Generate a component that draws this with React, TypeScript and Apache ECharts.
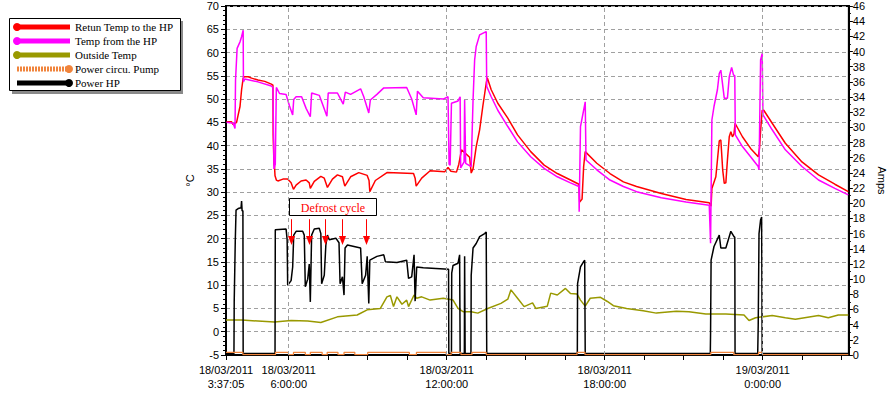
import React, { useEffect, useRef } from "react";
import * as echarts from "echarts";

// Time in hours since 18/03/2011 00:00
const T_START = 3 + 37 / 60 + 5 / 3600;
const T_END = 27.272;
const X_LABELS = [T_START, 6, 12, 18, 24];
const X_TICKS = [T_START, 6, 7.5, 9, 10.5, 12, 13.5, 15, 16.5, 18, 19.5, 21, 22.5, 24, 25.5, 27];
const X_GRID = [6, 12, 18, 24];

const SERIES_NAMES = ["Retun Temp to the HP", "Temp from the HP", "Outside Temp", "Power circu. Pump", "Power HP"];
const SERIES_COLORS = ["#ff0000", "#ff00ff", "#999900", "#f0843c", "#000000"];

const RETURN_TEMP: [number, number][] = [
  [3.64,45.1],[3.83,45.1],[3.89,44.5],[4.02,45.0],[4.08,46.6],[4.15,48.4],[4.21,52.0],[4.27,54.5],[4.31,54.8],[4.46,54.8],[4.59,54.5],[4.83,54.1],[5.09,53.8],[5.34,53.2],[5.40,53.0],[5.41,42.3],[5.44,36.0],[5.46,35.5],[5.48,33.5],[5.53,32.6],[5.59,32.4],[5.78,32.8],[5.96,32.8],[6.09,32.0],[6.18,30.6],[6.28,31.5],[6.47,32.4],[6.66,32.6],[6.78,32.0],[6.82,30.8],[6.97,32.3],[7.22,33.4],[7.35,33.0],[7.47,31.0],[7.66,32.8],[7.85,33.7],[8.04,33.3],[8.13,31.3],[8.35,33.3],[8.66,34.2],[8.98,33.6],[9.05,32.5],[9.08,30.1],[9.29,32.5],[9.73,34.2],[10.74,34.0],[10.80,33.0],[10.84,31.3],[11.05,33.0],[11.37,34.6],[11.93,34.4],[12.05,35.3],[12.16,34.5],[12.37,34.3],[12.46,36.0],[12.56,39.1],[12.68,38.5],[12.87,37.5],[12.93,34.1],[13.00,35.0],[13.12,39.8],[13.25,43.4],[13.37,48.4],[13.50,53.4],[13.54,54.6],[13.69,52.0],[13.94,49.1],[14.32,45.9],[14.69,42.3],[15.19,38.7],[15.70,35.8],[16.20,34.0],[16.70,32.6],[17.02,31.7],[17.05,27.9],[17.14,28.5],[17.20,35.5],[17.26,38.7],[17.70,36.2],[18.20,34.0],[18.71,32.2],[19.21,31.2],[20.15,29.7],[21.09,28.4],[21.97,27.7],[22.04,27.0],[22.07,30.8],[22.22,33.3],[22.35,41.0],[22.41,41.2],[22.48,34.8],[22.54,31.9],[22.60,32.0],[22.66,36.9],[22.73,41.9],[22.79,43.0],[22.85,41.9],[22.91,42.5],[22.95,44.8],[23.23,41.9],[23.54,39.4],[23.83,37.6],[23.88,39.5],[23.92,43.2],[23.98,47.6],[24.04,47.6],[24.36,44.8],[24.86,40.5],[25.49,36.5],[26.12,33.7],[26.74,31.7],[27.25,30.1]
];

const FROM_TEMP: [number, number][] = [
  [3.64,45.0],[3.89,44.8],[3.96,43.7],[3.98,54.1],[4.04,60.9],[4.15,62.3],[4.21,63.4],[4.27,64.8],[4.28,53.7],[4.33,54.3],[4.83,53.7],[5.34,52.8],[5.40,52.5],[5.44,35.0],[5.49,36.0],[5.53,52.5],[5.65,51.2],[5.90,51.0],[6.03,48.5],[6.15,46.6],[6.19,49.9],[6.28,50.5],[6.49,50.5],[6.66,48.0],[6.82,46.2],[6.87,51.3],[7.16,50.8],[7.31,48.5],[7.45,46.3],[7.50,51.3],[7.85,51.3],[7.97,50.0],[8.07,48.9],[8.15,51.5],[8.35,51.0],[8.73,52.2],[8.85,50.5],[9.04,47.0],[9.10,49.8],[9.35,51.0],[9.61,52.4],[10.48,52.5],[10.67,50.0],[10.84,46.6],[10.89,51.7],[11.11,50.3],[11.87,50.0],[12.05,50.5],[12.09,36.0],[12.13,35.8],[12.18,49.1],[12.43,49.6],[12.51,50.5],[12.53,35.2],[12.66,36.5],[12.68,49.8],[12.72,36.2],[12.93,35.5],[13.00,49.8],[13.06,58.4],[13.12,61.3],[13.25,63.8],[13.50,64.5],[13.52,52.7],[13.69,50.5],[13.94,47.6],[14.32,44.1],[14.69,40.8],[15.19,37.6],[15.70,35.1],[16.20,33.3],[16.70,32.0],[17.02,31.2],[17.03,25.8],[17.08,44.1],[17.20,47.6],[17.26,49.4],[17.29,36.9],[17.70,34.8],[18.20,32.6],[18.71,31.2],[19.21,30.1],[20.15,28.8],[21.09,27.9],[21.97,27.2],[22.02,19.0],[22.07,45.5],[22.15,48.4],[22.28,52.0],[22.35,55.5],[22.41,56.2],[22.48,53.0],[22.54,50.2],[22.66,50.2],[22.73,54.8],[22.82,56.8],[22.89,55.2],[22.94,55.0],[22.96,42.3],[23.23,39.8],[23.54,37.6],[23.83,35.5],[23.86,34.8],[23.88,42.7],[23.92,58.4],[23.98,59.8],[24.01,46.6],[24.36,43.4],[24.86,39.1],[25.49,35.5],[26.12,32.6],[26.74,30.8],[27.25,29.4]
];

const OUTSIDE_TEMP: [number, number][] = [
  [3.62,2.5],[4.21,2.5],[4.83,2.3],[5.46,2.1],[6.09,2.4],[6.72,2.3],[7.22,2.0],[7.85,3.2],[8.60,3.6],[8.98,4.7],[9.48,5.0],[9.73,7.5],[9.86,7.8],[9.98,5.4],[10.11,7.5],[10.30,5.9],[10.48,6.8],[10.55,5.4],[10.76,7.9],[10.86,7.2],[11.05,7.5],[11.37,6.8],[11.87,7.2],[12.24,6.8],[12.43,5.0],[12.62,4.3],[12.93,4.3],[13.18,4.0],[13.56,5.0],[14.06,6.1],[14.32,7.0],[14.44,9.0],[14.69,7.2],[14.94,5.4],[15.26,6.2],[15.38,5.0],[15.82,5.5],[15.95,8.3],[16.20,7.9],[16.51,9.3],[16.70,8.2],[16.95,8.1],[17.08,6.8],[17.26,5.5],[17.45,7.2],[17.84,7.4],[18.10,6.5],[18.33,5.6],[18.83,5.0],[19.46,4.5],[19.96,4.0],[20.72,4.4],[21.20,4.3],[21.84,3.8],[22.60,3.8],[23.29,3.6],[23.48,2.4],[23.73,3.0],[24.36,3.5],[24.86,3.0],[25.24,2.7],[26.12,3.5],[26.49,3.0],[26.87,3.6],[27.25,3.6]
];

const PUMP_POWER: [number, number][] = [
  [3.62,0.35],[4.26,0.05],[5.50,0.35],[5.99,0.05],[6.18,0.35],[6.63,0.05],[6.82,0.35],[7.27,0.05],[7.46,0.35],[7.87,0.05],[8.10,0.35],[8.51,0.05],[9.00,0.35],[10.58,0.05],[10.85,0.35],[11.98,0.05],[12.17,0.35],[12.54,0.05],[12.96,0.35],[13.50,0.05],[16.95,0.35],[17.25,0.05],[22.03,0.35],[22.90,0.05],[23.84,0.35],[23.99,0.05],[27.25,0.05]
];

const HP_POWER: [number, number][] = [
  [3.62,0.2],[3.92,0.2],[3.93,7.0],[3.97,15.0],[4.00,19.1],[4.08,19.3],[4.19,19.4],[4.21,20.3],[4.23,19.0],[4.26,19.0],[4.27,0.2],[5.48,0.2],[5.49,16.5],[5.90,16.6],[5.94,15.2],[5.96,9.2],[6.09,9.8],[6.15,11.6],[6.19,15.8],[6.28,16.3],[6.53,16.3],[6.59,15.8],[6.63,9.0],[6.72,10.0],[6.78,12.0],[6.82,7.0],[6.87,15.8],[6.97,16.6],[7.16,16.7],[7.22,16.0],[7.25,9.4],[7.35,10.5],[7.41,14.5],[7.47,15.8],[7.54,15.2],[7.79,15.4],[7.91,14.8],[7.95,9.4],[8.04,10.3],[8.10,7.9],[8.14,14.1],[8.23,14.5],[8.48,14.3],[8.73,14.1],[8.79,9.4],[8.92,10.5],[8.98,13.0],[9.04,6.8],[9.08,12.5],[9.35,13.0],[9.61,13.2],[9.67,12.3],[10.11,12.2],[10.48,12.5],[10.55,10.1],[10.67,10.3],[10.76,13.2],[10.80,7.1],[10.86,11.6],[11.11,11.5],[12.07,11.3],[12.08,0.2],[12.18,0.2],[12.19,10.8],[12.24,11.8],[12.43,12.1],[12.49,13.2],[12.51,0.2],[12.67,0.2],[12.68,13.0],[12.70,0.2],[12.92,0.2],[12.93,10.5],[13.00,14.1],[13.12,14.7],[13.25,15.6],[13.44,16.0],[13.50,16.2],[13.52,0.2],[16.96,0.2],[16.97,9.4],[17.08,11.6],[17.20,12.3],[17.24,12.5],[17.26,0.2],[22.01,0.2],[22.02,2.9],[22.04,12.5],[22.15,14.3],[22.35,15.8],[22.41,14.1],[22.60,14.1],[22.79,16.3],[22.91,15.6],[22.94,15.5],[22.95,0.2],[23.81,0.2],[23.83,4.0],[23.86,16.0],[23.92,17.8],[23.96,18.2],[23.98,0.2],[27.25,0.2]
];

const DEFROST_TIMES = [6.09, 6.76, 7.37, 8.04, 8.92];
const DEFROST_ARROW_FROM = 17.9; // amps
const DEFROST_ARROW_TO = 14.5; // amps
const DEFROST_LABEL = "Defrost cycle";

const pad = (n: number) => (n < 10 ? "0" + n : "" + n);
function fmtTime(v: number): string {
  const day = v >= 24 - 1e-6 ? 19 : 18;
  const s = Math.round((v % 24) * 3600);
  const hh = Math.floor(s / 3600);
  const mm = Math.floor((s % 3600) / 60);
  const ss = s % 60;
  return `${day}/03/2011\n${hh}:${pad(mm)}:${pad(ss)}`;
}

const AXIS_FONT = "'Liberation Sans', Arial, sans-serif";
const SERIF = "'Liberation Serif', 'Times New Roman', serif";

function buildLegend(): any[] {
  const rows = [27, 41, 55, 69, 83];
  const els: any[] = [
    { type: "rect", shape: { x: 12, y: 21, width: 171, height: 73 }, style: { fill: "#8a8a8a" }, z: 10 },
    { type: "rect", shape: { x: 9.5, y: 18.5, width: 171, height: 72 }, style: { fill: "#fff", stroke: "#000", lineWidth: 1 }, z: 11 },
  ];
  SERIES_NAMES.forEach((name, i) => {
    const y = rows[i];
    const c = SERIES_COLORS[i];
    const dotRight = i >= 3;
    els.push({
      type: "line",
      shape: { x1: 17, y1: y, x2: 70, y2: y },
      style: { stroke: c, lineWidth: 5, lineDash: i === 3 ? [2, 1] : null },
      z: 12,
    });
    els.push({ type: "circle", shape: { cx: dotRight ? 69 : 17, cy: y, r: 4 }, style: { fill: c }, z: 12 });
    els.push({
      type: "text",
      x: 75,
      y: y,
      style: { text: name, fill: "#000", font: `11px ${SERIF}`, verticalAlign: "middle", align: "left" },
      z: 12,
    });
  });
  return els;
}

export default function App() {
  const ref = useRef<HTMLDivElement>(null);
  useEffect(() => {
    if (!ref.current) return;
    const chart = echarts.init(ref.current, undefined, { renderer: "svg" });
    const gridDash = { type: [4, 3], color: "#a0a0a0", width: 1 };
    const option: any = {
      animation: false,
      backgroundColor: "#fff",
      grid: { left: 226, top: 6, width: 628, height: 349, show: true, borderColor: "#000", borderWidth: 2, backgroundColor: "transparent" },
      xAxis: {
        type: "value",
        min: T_START,
        max: T_END,
        axisLine: { show: true, onZero: false, lineStyle: { color: "#000", width: 2 } },
        axisTick: { show: true, customValues: X_TICKS, length: 5, lineStyle: { color: "#000" } },
        axisLabel: {
          customValues: X_LABELS,
          formatter: (v: number) => fmtTime(v),
          color: "#000",
          fontFamily: AXIS_FONT,
          fontSize: 11,
          lineHeight: 14,
          margin: 8,
        },
        splitLine: { show: false },
      },
      yAxis: [
        {
          type: "value",
          min: -5,
          max: 70,
          interval: 5,
          position: "left",
          name: "°C",
          nameLocation: "middle",
          nameGap: 26,
          nameRotate: 90,
          nameTextStyle: { color: "#000", fontFamily: AXIS_FONT, fontSize: 11 },
          axisLine: { show: true, onZero: false, lineStyle: { color: "#000", width: 2 } },
          axisTick: { show: true, length: 5, lineStyle: { color: "#000" } },
          minorTick: { show: true, splitNumber: 5, length: 3, lineStyle: { color: "#000" } },
          axisLabel: { color: "#000", fontFamily: AXIS_FONT, fontSize: 11, margin: 7 },
          splitLine: { show: true, lineStyle: gridDash },
        },
        {
          type: "value",
          min: 0,
          max: 46,
          interval: 2,
          position: "right",
          name: "Amps",
          nameLocation: "middle",
          nameGap: 22,
          nameRotate: -90,
          nameTextStyle: { color: "#000", fontFamily: AXIS_FONT, fontSize: 11 },
          axisLine: { show: true, onZero: false, lineStyle: { color: "#000", width: 2 } },
          axisTick: { show: true, length: 4, lineStyle: { color: "#000" } },
          minorTick: { show: true, splitNumber: 2, length: 2, lineStyle: { color: "#000" } },
          axisLabel: { color: "#000", fontFamily: AXIS_FONT, fontSize: 11, margin: 4 },
          splitLine: { show: false },
        },
      ],
      series: [
        {
          type: "line",
          name: "vgrid",
          data: [],
          z: 1,
          silent: true,
          markLine: {
            silent: true,
            symbol: ["none", "none"],
            label: { show: false },
            lineStyle: gridDash,
            data: X_GRID.map((x) => ({ xAxis: x })),
          },
        },
        {
          type: "line",
          name: SERIES_NAMES[0],
          data: RETURN_TEMP,
          yAxisIndex: 0,
          showSymbol: false,
          lineStyle: { color: SERIES_COLORS[0], width: 1.5 },
          itemStyle: { color: SERIES_COLORS[0] },
        },
        {
          type: "line",
          name: SERIES_NAMES[1],
          data: FROM_TEMP,
          yAxisIndex: 0,
          showSymbol: false,
          lineStyle: { color: SERIES_COLORS[1], width: 1.5 },
          itemStyle: { color: SERIES_COLORS[1] },
        },
        {
          type: "line",
          name: SERIES_NAMES[2],
          data: OUTSIDE_TEMP,
          yAxisIndex: 0,
          showSymbol: false,
          lineStyle: { color: SERIES_COLORS[2], width: 1.5 },
          itemStyle: { color: SERIES_COLORS[2] },
        },
        {
          type: "line",
          name: SERIES_NAMES[4],
          data: HP_POWER,
          yAxisIndex: 1,
          showSymbol: false,
          lineStyle: { color: SERIES_COLORS[4], width: 1.5 },
          itemStyle: { color: SERIES_COLORS[4] },
        },
        {
          type: "line",
          name: SERIES_NAMES[3],
          data: PUMP_POWER,
          yAxisIndex: 1,
          step: "end",
          showSymbol: false,
          lineStyle: { color: SERIES_COLORS[3], width: 1.2 },
          itemStyle: { color: SERIES_COLORS[3] },
        },
      ],
    };
    chart.setOption(option);

    // Defrost arrows positioned through the chart's own scales
    const arrows: any[] = [];
    DEFROST_TIMES.forEach((t) => {
      const p1 = chart.convertToPixel({ xAxisIndex: 0, yAxisIndex: 1 } as any, [t, DEFROST_ARROW_FROM]) as number[];
      const p2 = chart.convertToPixel({ xAxisIndex: 0, yAxisIndex: 1 } as any, [t, DEFROST_ARROW_TO]) as number[];
      const x = Math.round(p1[0]) + 0.5;
      arrows.push({
        type: "line",
        shape: { x1: x, y1: p1[1], x2: x, y2: p2[1] - 8 },
        style: { stroke: "#ff0000", lineWidth: 1 },
        z: 20,
      });
      arrows.push({
        type: "polygon",
        shape: { points: [[x - 3.5, p2[1] - 9], [x + 3.5, p2[1] - 9], [x, p2[1]]] },
        style: { fill: "#ff0000" },
        z: 20,
      });
    });

    chart.setOption({
      graphic: [
        ...buildLegend(),
        { type: "rect", shape: { x: 289.5, y: 198.5, width: 87, height: 17 }, style: { fill: "#fff", stroke: "#000", lineWidth: 1 }, z: 20 },
        {
          type: "text",
          x: 333,
          y: 207.5,
          style: { text: DEFROST_LABEL, fill: "#ff0000", font: `12px ${SERIF}`, align: "center", verticalAlign: "middle" },
          z: 21,
        },
        ...arrows,
      ],
    });
    return () => chart.dispose();
  }, []);
  return <div ref={ref} style={{ position: "absolute", left: 0, top: 0, width: 895, height: 397 }} />;
}
